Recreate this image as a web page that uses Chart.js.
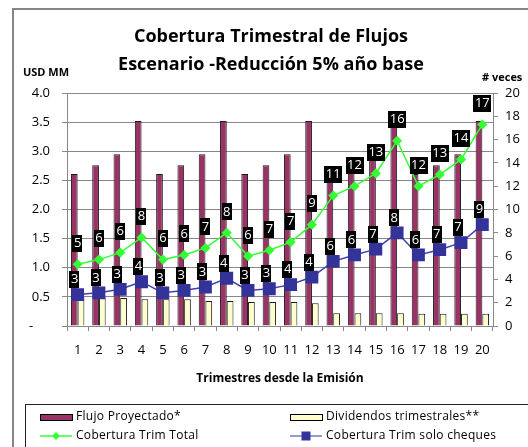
<!DOCTYPE html>
<html>
<head>
<meta charset="utf-8">
<script src="https://cdn.jsdelivr.net/npm/chart.js@4.4.0/dist/chart.umd.min.js"></script>
<style>
  html, body { margin: 0; padding: 0; background: #fff; }
  canvas { display: block; }
</style>
</head>
<body>
<canvas id="chart" width="528" height="447"></canvas>
<script>
const trimestres = ['1','2','3','4','5','6','7','8','9','10','11','12','13','14','15','16','17','18','19','20'];
const flujoProyectado = [2.61, 2.76, 2.95, 3.52, 2.61, 2.76, 2.95, 3.52, 2.61, 2.76, 2.95, 3.52, 2.61, 2.76, 2.95, 3.52, 2.61, 2.76, 2.95, 3.52];
const dividendos = [0.49, 0.49, 0.48, 0.46, 0.46, 0.46, 0.43, 0.43, 0.41, 0.41, 0.41, 0.39, 0.22, 0.22, 0.22, 0.22, 0.21, 0.21, 0.21, 0.21];
const coberturaTotal = [5.3, 5.7, 6.3, 7.6, 5.7, 6.1, 6.7, 8.0, 6.0, 6.5, 7.2, 8.7, 11.2, 12.0, 13.1, 15.9, 12.0, 13.0, 14.3, 17.3];
const coberturaCheques = [2.7, 2.85, 3.15, 3.8, 2.85, 3.05, 3.35, 4.1, 3.05, 3.2, 3.55, 4.2, 5.55, 6.1, 6.6, 8.0, 6.1, 6.55, 7.15, 8.7];

const FONT = '"Open Sans", Lato, sans-serif';

// fondo y marco exterior
const framePlugin = {
  id: 'frame',
  beforeDraw(chart) {
    const ctx = chart.ctx;
    ctx.save();
    ctx.fillStyle = '#fff';
    ctx.fillRect(0, 0, chart.width, chart.height);
    ctx.strokeStyle = '#868686';
    ctx.lineWidth = 2;
    ctx.strokeRect(13, 9, 540, 460);
    ctx.restore();
  }
};

// titulos y unidades de ejes
const textPlugin = {
  id: 'texts',
  afterDraw(chart) {
    const ctx = chart.ctx;
    ctx.save();
    ctx.fillStyle = '#000';
    ctx.textAlign = 'center';
    ctx.textBaseline = 'middle';
    ctx.font = 'bold 18px ' + FONT;
    ctx.fillText('Cobertura Trimestral de Flujos', 271, 37);
    ctx.fillText('Escenario -Reducción 5% año base', 271, 65);
    ctx.font = 'bold 11px ' + FONT;
    ctx.textAlign = 'left';
    ctx.fillText('USD MM', 23, 73);
    ctx.fillText('# veces', 482, 78);
    ctx.restore();
  }
};

// etiquetas negras sobre los puntos de las lineas
const labelPlugin = {
  id: 'pointLabels',
  afterDatasetsDraw(chart) {
    const ctx = chart.ctx;
    ctx.save();
    ctx.font = '13px ' + FONT;
    ctx.textAlign = 'center';
    ctx.textBaseline = 'middle';
    [[2, 0, -21], [3, -3, -15]].forEach(([idx, dx, dy]) => {
      const ds = chart.data.datasets[idx];
      chart.getDatasetMeta(idx).data.forEach((pt, i) => {
        const txt = String(Math.round(ds.data[i]));
        const w = ctx.measureText(txt).width + 3;
        const h = 17;
        const cx = pt.x + dx, cy = pt.y + dy;
        ctx.fillStyle = '#000';
        ctx.fillRect(Math.round(cx - w / 2), Math.round(cy - h / 2), Math.round(w), h);
        ctx.fillStyle = '#fff';
        ctx.fillText(txt, cx, cy);
      });
    });
    ctx.restore();
  }
};

// leyenda en recuadro, dos columnas
const legendPlugin = {
  id: 'boxLegend',
  afterDraw(chart) {
    const ctx = chart.ctx;
    const ds = chart.data.datasets;
    ctx.save();
    ctx.strokeStyle = '#222';
    ctx.lineWidth = 1;
    ctx.strokeRect(25.5, 404.5, 540, 60);
    const cols = [40, 290];
    const rows = [417, 436];
    ctx.font = '12px ' + FONT;
    ctx.letterSpacing = '0.3px';
    ctx.textBaseline = 'middle';
    ctx.textAlign = 'left';
    ds.forEach((d, i) => {
      const x = cols[i % 2], y = rows[Math.floor(i / 2)];
      if (d.type === 'bar') {
        ctx.fillStyle = d.backgroundColor;
        ctx.fillRect(x, y - 3, 32, 6);
        ctx.strokeStyle = '#000';
        ctx.strokeRect(x + 0.5, y - 2.5, 32, 6);
      } else {
        ctx.strokeStyle = d.legendLine || d.borderColor;
        ctx.lineWidth = 1.5;
        ctx.beginPath();
        ctx.moveTo(x, y);
        ctx.lineTo(x + 32, y);
        ctx.stroke();
        ctx.fillStyle = d.pointBackgroundColor;
        ctx.beginPath();
        if (d.pointStyle === 'rectRot') {
          ctx.moveTo(x + 16, y - 4); ctx.lineTo(x + 20, y); ctx.lineTo(x + 16, y + 4); ctx.lineTo(x + 12, y);
        } else {
          ctx.rect(x + 11.5, y - 4.5, 9, 9);
        }
        ctx.fill();
      }
      ctx.fillStyle = '#000';
      ctx.fillText(d.label, x + 36, y);
    });
    ctx.restore();
  }
};

new Chart(document.getElementById('chart'), {
  type: 'bar',
  data: {
    labels: trimestres,
    datasets: [
      {
        type: 'bar', label: 'Flujo Proyectado*', data: flujoProyectado, yAxisID: 'y', order: 3,
        backgroundColor: '#993366', borderColor: '#1a1a1a', borderWidth: 1,
        categoryPercentage: 0.63, barPercentage: 1
      },
      {
        type: 'bar', label: 'Dividendos trimestrales**', data: dividendos, yAxisID: 'y', order: 3,
        backgroundColor: '#FFFFCC', borderColor: '#1a1a1a', borderWidth: 1,
        categoryPercentage: 0.63, barPercentage: 1
      },
      {
        type: 'line', label: 'Cobertura Trim Total', data: coberturaTotal, yAxisID: 'y2', order: 1,
        borderColor: '#33FF33', borderWidth: 1.5, pointStyle: 'rectRot', pointRadius: 4,
        pointBackgroundColor: '#33FF33', pointBorderColor: '#33FF33'
      },
      {
        type: 'line', label: 'Cobertura Trim solo cheques', data: coberturaCheques, yAxisID: 'y2', order: 0,
        borderColor: '#4040A8', legendLine: '#7777CC', borderWidth: 1.5, pointStyle: 'rect', pointRadius: 8,
        pointBackgroundColor: '#333399', pointBorderColor: '#333399'
      }
    ]
  },
  options: {
    responsive: false,
    animation: false,
    layout: { padding: { top: 93, bottom: 61, left: 0, right: 0 } },
    plugins: { legend: { display: false }, tooltip: { enabled: false } },
    scales: {
      x: {
        grid: { offset: true, drawOnChartArea: false, tickLength: 5, color: '#888' },
        border: { color: '#888' },
        ticks: { color: '#000', padding: 11, maxRotation: 0, autoSkip: false, font: { family: FONT, size: 13 } },
        title: {
          display: true, text: 'Trimestres desde la Emisión', color: '#000',
          font: { family: FONT, size: 12, weight: 'bold' }, padding: { top: 0, bottom: 0 }
        },
        afterFit(s) { s.height = 60; }
      },
      y: {
        position: 'left', min: 0, max: 4,
        grid: { color: '#888', tickLength: 5 },
        border: { color: '#888' },
        ticks: {
          stepSize: 0.5, padding: 12, color: '#000', font: { family: FONT, size: 13 },
          callback: v => v === 0 ? '-     ' : v.toFixed(1)
        },
        afterFit(s) { s.width = 67; }
      },
      y2: {
        position: 'right', min: 0, max: 20,
        grid: { drawOnChartArea: false, tickLength: 5, color: '#888' },
        border: { color: '#888' },
        ticks: { stepSize: 2, padding: 7, color: '#000', font: { family: FONT, size: 13 } },
        afterFit(s) { s.width = 35; }
      }
    }
  },
  plugins: [framePlugin, labelPlugin, textPlugin, legendPlugin]
});
</script>
</body>
</html>
